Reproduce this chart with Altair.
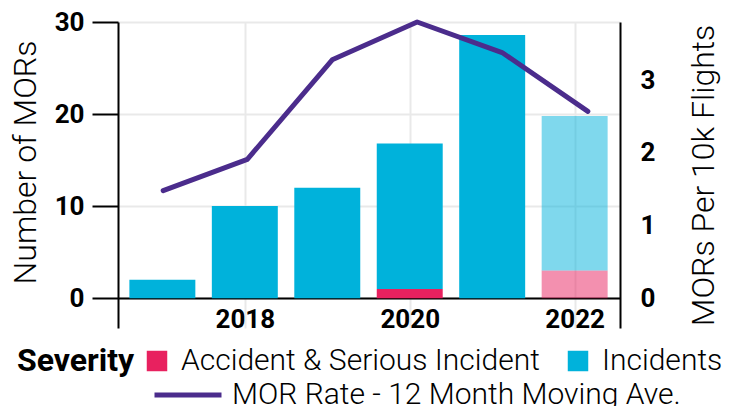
import altair as alt
import pandas as pd

# ---- data ----
years = [2017, 2018, 2019, 2020, 2021, 2022]
accident = [0, 0, 0, 1, 0, 3]
incidents = [2, 10, 12, 15.8, 28.6, 16.8]
line_x = [2017.01, 2018.03, 2019.06, 2020.09, 2021.12, 2022.16]
rate = [1.48, 1.91, 3.28, 3.80, 3.38, 2.57]
severity = ["Accident & Serious Incident", "Incidents"]
series_name = "MOR Rate - 12 Month Moving Ave."
x_tick_values = [2018, 2020, 2022]
left_ticks = [0, 10, 20, 30]
right_ticks = [0, 1, 2, 3]

colors = ["#E8215F", "#00B2DB"]
line_color = "#4B2C8C"
FONT = "Roboto"
LIGHT = 300

rows = []
for i, yr in enumerate(years):
    rows.append({"year": yr, "Severity": severity[0], "count": accident[i], "ord": 0})
    rows.append({"year": yr, "Severity": severity[1], "count": incidents[i], "ord": 1})
bars_df = pd.DataFrame(rows)
line_df = pd.DataFrame({"t": line_x, "rate": rate, "series": [series_name] * len(line_x)})

xscale = alt.Scale(domain=[2016.462, 2022.55], nice=False, zero=False)


def x_axis():
    return alt.Axis(
        values=x_tick_values, format="d", ticks=False, tickSize=0,
        labelFontSize=26, labelFontWeight="bold", labelColor="black",
        labelPadding=8, domainColor="black", domainWidth=2,
        grid=True, gridColor="#e9e9e9", gridWidth=2, offset=-30,
        title=None,
    )


bars = alt.Chart(bars_df).transform_stack(
    stack="count", groupby=["year"], as_=["y0", "y1"],
    sort=[alt.SortField(field="ord", order="ascending")],
).transform_calculate(
    x0="datum.year - 0.4",
    x1="datum.year + 0.4",
    op="datum.year == 2022 ? 0.5 : 1",
).mark_bar().encode(
    x=alt.X("x0:Q", scale=xscale, axis=x_axis(), title=None),
    x2="x1:Q",
    y=alt.Y(
        "y0:Q",
        scale=alt.Scale(domain=[-3.24, 30], nice=False, zero=False),
        axis=alt.Axis(
            values=left_ticks, title="Number of MORs", titleFontSize=32,
            titleFontWeight=LIGHT, titleColor="black", titlePadding=12,
            titleY=140,
            labelFontSize=26, labelFontWeight="bold", labelColor="black",
            labelPadding=8, tickSize=26, tickWidth=2, tickColor="black",
            domainColor="black", domainWidth=2, grid=True,
            gridColor="#e9e9e9", gridWidth=2,
        ),
    ),
    y2="y1:Q",
    color=alt.Color(
        "Severity:N",
        scale=alt.Scale(domain=severity, range=colors),
        legend=alt.Legend(
            title="Severity", orient="none", legendX=-101, legendY=324,
            direction="horizontal", titleOrient="left", titleFontSize=32,
            titleFontWeight="bold", titleColor="black", titlePadding=7,
            labelFontSize=30, labelFontWeight=LIGHT, labelColor="black",
            symbolType="square", symbolSize=420, symbolStrokeWidth=0,
            symbolOpacity=1, labelOffset=9, columnPadding=23, labelLimit=500,
        ),
    ),
    opacity=alt.Opacity("op:Q", scale=None, legend=None),
)

line = alt.Chart(line_df).mark_line(
    strokeWidth=5, strokeCap="round", strokeJoin="round"
).encode(
    x=alt.X("t:Q", scale=xscale, axis=x_axis(), title=None),
    y=alt.Y(
        "rate:Q",
        scale=alt.Scale(domain=[-0.41, 3.80], nice=False, zero=False),
        axis=alt.Axis(
            orient="right", values=right_ticks, title="MORs Per 10k Flights",
            titleFontSize=32, titleFontWeight=LIGHT, titleColor="black",
            titleAngle=270, titleBaseline="top",
            titlePadding=34, labelFontSize=26, labelFontWeight="bold",
            labelColor="black", labelPadding=20, ticks=False, tickSize=0,
            domainColor="black", domainWidth=2, grid=False,
        ),
    ),
    stroke=alt.Stroke(
        "series:N",
        scale=alt.Scale(domain=[series_name], range=[line_color]),
        legend=alt.Legend(
            title=None, orient="none", legendX=34, legendY=337,
            labelFontSize=30, labelFontWeight=LIGHT, labelColor="black",
            symbolType="stroke", symbolSize=4489, symbolStrokeWidth=5,
            labelOffset=8, labelLimit=600,
        ),
    ),
)

chart = alt.layer(bars, line).resolve_scale(
    y="independent", color="independent"
).properties(
    width=502,
    height=306,
    autosize=alt.AutoSizeParams(type="none"),
    padding={"left": 110, "top": 14, "right": 107, "bottom": 78},
).configure(
    font=FONT,
).configure_view(
    stroke=None,
)

chart.save("out.html", embed_options={"renderer": "svg", "actions": False})
